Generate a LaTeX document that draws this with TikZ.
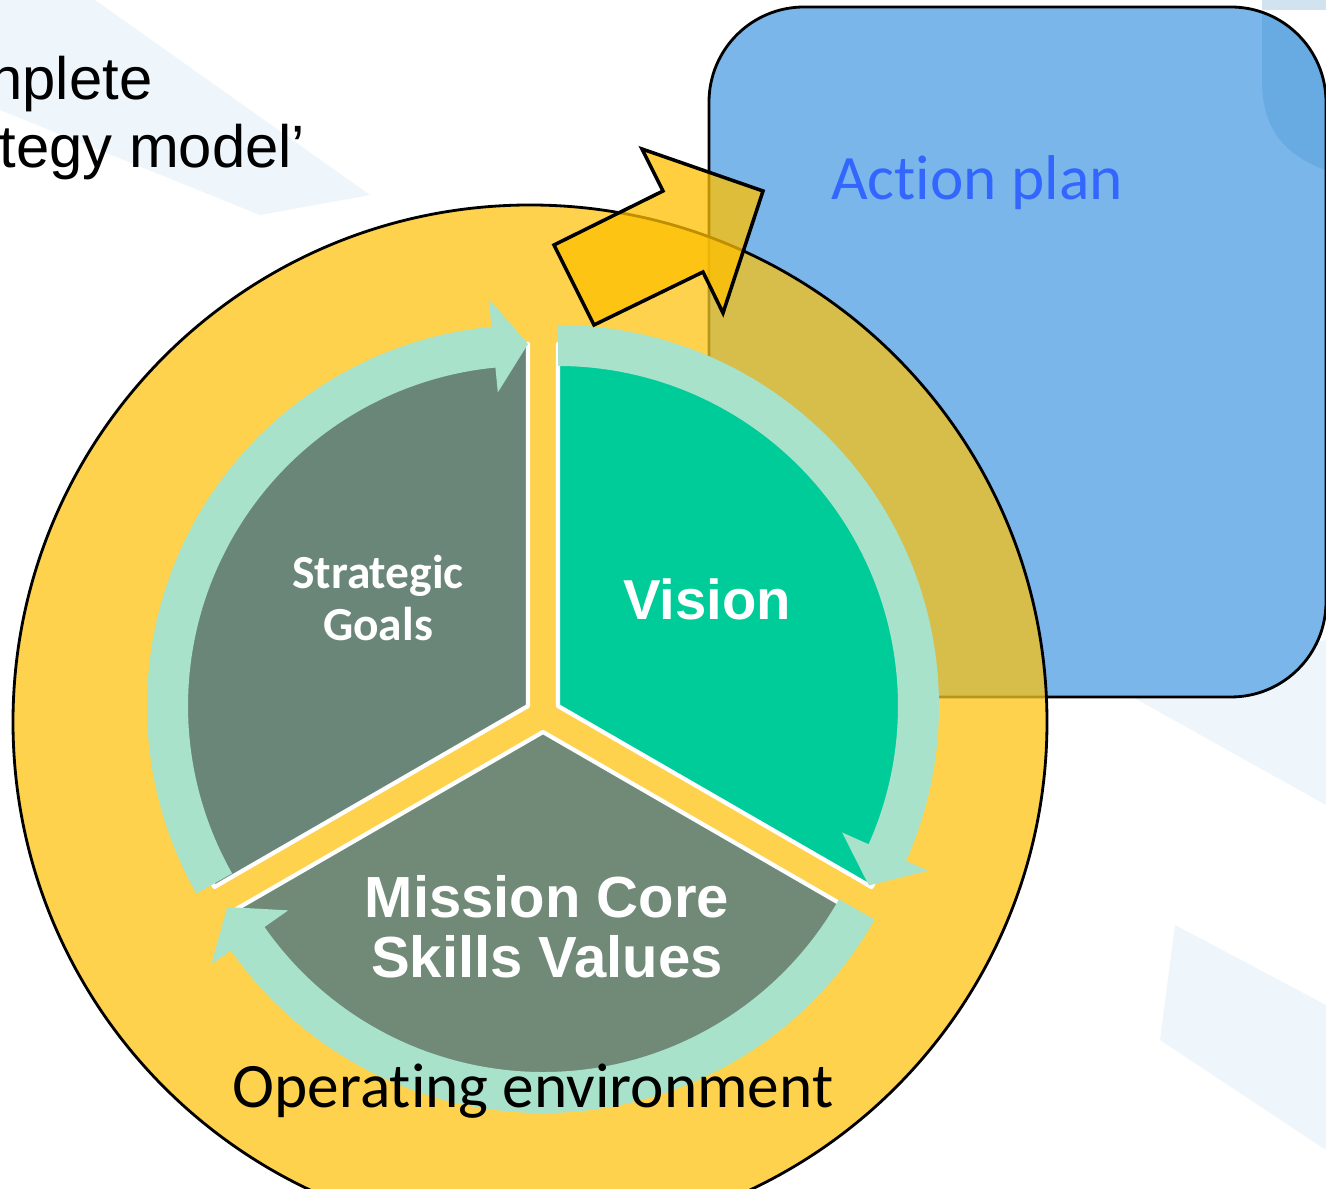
\documentclass[tikz,border=0pt]{standalone}
\usepackage{fontspec}
\setmainfont{Carlito}[Ligatures=NoCommon]
\newfontfamily\arialfont{Liberation Sans}
\usetikzlibrary{calc,positioning}

\definecolor{stripeblue}{HTML}{EEF5FB}
\definecolor{stripetop}{HTML}{D2E3F0}
\definecolor{ringyellow}{HTML}{FED24C}
\definecolor{ringolive}{HTML}{D7BD49}
\definecolor{ringedge}{HTML}{B8961E}
\definecolor{planblue}{HTML}{7AB6E9}
\definecolor{plandark}{HTML}{68AAE2}
\definecolor{plantext}{HTML}{3366FF}
\definecolor{bandmint}{HTML}{A8E2CA}
\definecolor{visiongreen}{HTML}{00CC99}
\definecolor{goalgrey}{HTML}{6A8678}
\definecolor{missiongrey}{HTML}{718A78}
\definecolor{arroworange}{HTML}{FFC000}

\begin{document}
\begin{tikzpicture}[x=0.01cm,y=0.01cm,
  outline/.style={draw=black,line width=0.8pt},
  sector/.style={draw=white,line width=1.2pt,line join=round},
  band/.style={fill=bandmint},
  planbox/.style={rounded corners=0.95cm},
  inlbl/.style={text=white,align=center,inner sep=0pt}]
  \useasboundingbox (0,0) rectangle (1326,-1189);
  \clip (0,0) rectangle (1326,-1189);
  \fill[white] (0,0) rectangle (1326,-1189);
  % faint stripes behind everything
  \fill[stripeblue] (0,0) -- (95,0) -- (370,-195) -- (260,-215) -- (0,-110) -- cycle;
  \fill[stripeblue] (1120,-690) -- (1326,-640) -- (1326,-805) -- cycle;
  \fill[stripeblue] (1175,-925) -- (1326,-1005) -- (1326,-1150) -- (1160,-1040) -- cycle;
  \fill[stripetop] (1262,0) rectangle (1326,-10);

  % action plan box
  \fill[planblue,planbox] (709,-7) rectangle (1326,-697);
  \begin{scope}
    \clip[planbox] (709,-7) rectangle (1326,-697);
    \fill[plandark] (1262,10) -- (1262,-80) .. controls (1262,-135) and (1290,-160) .. (1340,-175) -- (1340,10) -- cycle;
  \end{scope}
  \draw[outline,planbox] (709,-7) rectangle (1326,-697);

  % operating environment
  \coordinate (ringc) at (530,-722);
  \fill[ringyellow] (ringc) circle[radius=517];
  \begin{scope}
    \clip (ringc) circle[radius=517];
    \fill[ringolive,planbox] (709,-7) rectangle (1326,-697);
    \draw[draw=ringedge,line width=0.8pt,planbox] (709,-7) rectangle (1326,-697);
  \end{scope}
  \draw[outline] (ringc) circle[radius=517];

  % the three pie pieces
  \coordinate (vc) at (558,-706);
  \coordinate (gc) at (528,-706);
  \coordinate (mc) at (543,-732);
  \filldraw[sector,fill=visiongreen] (vc) -- ++(90:362) arc[start angle=90,end angle=-30,radius=362] -- cycle;
  \filldraw[sector,fill=goalgrey] (gc) -- ++(90:362) arc[start angle=90,end angle=210,radius=362] -- cycle;
  \filldraw[sector,fill=missiongrey] (mc) -- ++(210:362) arc[start angle=210,end angle=330,radius=362] -- cycle;

  % curved arrows round each piece
  \fill[band] ($(vc)+(90:381)$) arc[start angle=90,end angle=-24,radius=381]
    -- ($(vc)+(-24:405)$) -- ($(vc)+(-30:359)$) -- ($(vc)+(-24:311)$)
    -- ($(vc)+(-24:340)$) arc[start angle=-24,end angle=90,radius=340] -- cycle;
  \fill[band] ($(gc)+(209.5:381)$) arc[start angle=209.5,end angle=95.5,radius=381]
    -- ($(gc)+(95.5:409)$) -- ($(gc)+(90:362)$) -- ($(gc)+(95.5:315)$)
    -- ($(gc)+(95.5:340)$) arc[start angle=95.5,end angle=209.5,radius=340] -- cycle;
  \fill[band] ($(mc)+(330.5:381)$) arc[start angle=330.5,end angle=215,radius=381]
    -- ($(mc)+(215:405)$) -- ($(mc)+(209:361)$) -- ($(mc)+(215:311)$)
    -- ($(mc)+(215:340)$) arc[start angle=215,end angle=330.5,radius=340] -- cycle;

  % block arrow to the plan
  \filldraw[outline,line width=1pt,fill=arroworange,fill opacity=0.75,line join=miter]
    (554,-245) -- (663,-191) -- (642,-149) -- (763,-191) -- (723,-313) -- (703,-272) -- (594,-325) -- cycle;

  % labels
  \node[anchor=base east,inner sep=0pt,font=\arialfont\fontsize{17}{20}\selectfont] (title1) at (153,-100) {nplete};
  \node[anchor=base east,inner sep=0pt,font=\arialfont\fontsize{17}{20}\selectfont] (title2) at (306,-168) {tegy model’};
  \node[anchor=base,inner sep=0pt,text=plantext,font=\fontsize{18}{21}\selectfont] (plan) at (977,-200) {Action plan};
  \node[inlbl,font=\bfseries\fontsize{13.5}{14.8}\selectfont] (goals) at (378,-598) {Strategic\\Goals};
  \node[inlbl,anchor=base,font=\arialfont\bfseries\fontsize{16}{19}\selectfont] (vision) at (707,-620) {Vision};
  \node[inlbl,font=\arialfont\bfseries\fontsize{16.5}{17.1}\selectfont] (mission) at (547,-927) {Mission Core\\Skills Values};
  \node[anchor=base,inner sep=0pt,font=\fontsize{18}{21}\selectfont] (env) at (533,-1108) {Operating environment};
\end{tikzpicture}
\end{document}
